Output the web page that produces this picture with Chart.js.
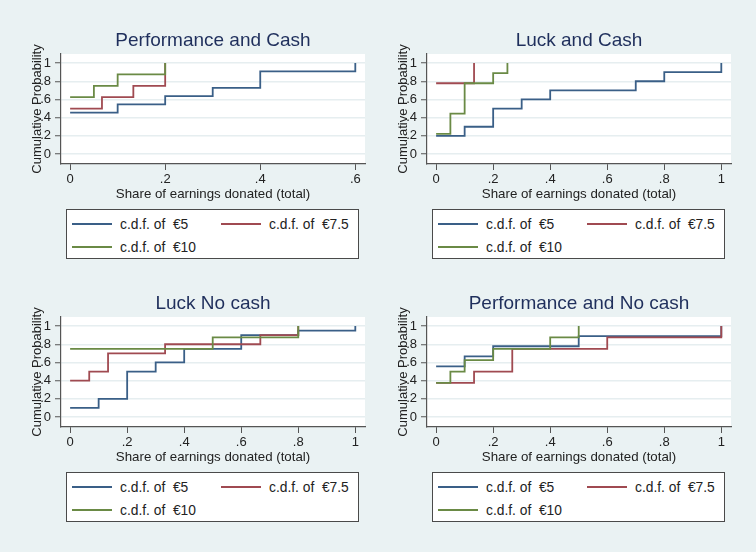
<!DOCTYPE html>
<html>
<head>
<meta charset="utf-8">
<script src="https://cdn.jsdelivr.net/npm/chart.js@4/dist/chart.umd.min.js"></script>
<style>
  html, body { margin: 0; padding: 0; }
  body {
    width: 756px; height: 552px; background: #eaf2f3;
    position: relative; overflow: hidden;
    font-family: "Liberation Sans", Arial, sans-serif;
  }
  canvas { position: absolute; }
  .legend {
    position: absolute; width: 293px; height: 50px; box-sizing: border-box;
    border: 1px solid #4a4a4a; background: #fff;
  }
  .legend .ln { position: absolute; width: 40px; height: 2px; }
  .legend .tx { position: absolute; font-size: 13.8px; line-height: 15px; color: #222; white-space: pre; }
</style>
</head>
<body>
<canvas id="c1" width="350" height="194"></canvas>
<canvas id="c2" width="350" height="194"></canvas>
<canvas id="c3" width="350" height="194"></canvas>
<canvas id="c4" width="350" height="194"></canvas>
<div class="legend" id="l1"></div>
<div class="legend" id="l2"></div>
<div class="legend" id="l3"></div>
<div class="legend" id="l4"></div>
<script>
// --- data ---
const seriesNames = ['c.d.f. of  €5', 'c.d.f. of  €7.5', 'c.d.f. of  €10'];
const panelTitles = ['Performance and Cash', 'Luck and Cash', 'Luck No cash', 'Performance and No cash'];

const yTicks = [0, 0.2, 0.4, 0.6, 0.8, 1];
const yTickLabels = ['0', '.2', '.4', '.6', '.8', '1'];
const xTicksShort = [0, 0.2, 0.4, 0.6];
const xTickLabelsShort = ['0', '.2', '.4', '.6'];
const xTicksFull = [0, 0.2, 0.4, 0.6, 0.8, 1];
const xTickLabelsFull = ['0', '.2', '.4', '.6', '.8', '1'];

// Performance and Cash
const perfCashX5 = [0, 0.1, 0.2, 0.3, 0.4, 0.6];
const perfCashY5 = [0.455, 0.545, 0.636, 0.727, 0.909, 1];
const perfCashX75 = [0, 0.067, 0.133, 0.2];
const perfCashY75 = [0.5, 0.625, 0.75, 1];
const perfCashX10 = [0, 0.05, 0.1, 0.2];
const perfCashY10 = [0.625, 0.75, 0.875, 1];

// Luck and Cash
const luckCashX5 = [0, 0.1, 0.2, 0.3, 0.4, 0.7, 0.8, 1];
const luckCashY5 = [0.2, 0.3, 0.5, 0.6, 0.7, 0.8, 0.9, 1];
const luckCashX75 = [0, 0.133];
const luckCashY75 = [0.778, 1];
const luckCashX10 = [0, 0.05, 0.1, 0.2, 0.25];
const luckCashY10 = [0.222, 0.444, 0.778, 0.889, 1];

// Luck No cash
const luckNoX5 = [0, 0.1, 0.2, 0.3, 0.4, 0.6, 0.8, 1];
const luckNoY5 = [0.1, 0.2, 0.5, 0.6, 0.75, 0.9, 0.95, 1];
const luckNoX75 = [0, 0.067, 0.133, 0.333, 0.667, 0.8];
const luckNoY75 = [0.4, 0.5, 0.7, 0.8, 0.9, 1];
const luckNoX10 = [0, 0.5, 0.8];
const luckNoY10 = [0.75, 0.875, 1];

// Performance and No cash
const perfNoX5 = [0, 0.1, 0.2, 0.5, 1];
const perfNoY5 = [0.556, 0.667, 0.778, 0.889, 1];
const perfNoX75 = [0, 0.133, 0.267, 0.6, 1];
const perfNoY75 = [0.375, 0.5, 0.75, 0.875, 1];
const perfNoX10 = [0, 0.05, 0.1, 0.2, 0.4, 0.5];
const perfNoY10 = [0.375, 0.5, 0.625, 0.75, 0.875, 1];

// --- styling ---
const lineColors = ['#3a5f87', '#a04a51', '#6a8a45'];
const axisColor = '#555';
const textColor = '#222';

Chart.defaults.font.family = '"Liberation Sans", Arial, sans-serif';

// white plot region like Stata
const plotBg = {
  id: 'plotBg',
  beforeDraw(chart) {
    const { ctx, chartArea: a } = chart;
    ctx.save();
    ctx.fillStyle = '#fff';
    ctx.fillRect(a.left, a.top, a.right - a.left, a.bottom - a.top);
    ctx.restore();
  }
};

// center the title over the plot region, not the whole canvas
const centerTitle = {
  id: 'centerTitle',
  afterLayout(chart) {
    const t = chart.titleBlock;
    if (t) {
      t.left = chart.chartArea.left;
      t.right = chart.chartArea.right;
    }
  }
};

function makePanel(n, ox, oy, title, xTicks, xLabels, xs, ys) {
  const canvas = document.getElementById('c' + n);
  canvas.style.left = (20 + ox) + 'px';
  canvas.style.top = (10 + oy) + 'px';
  const span = xTicks[xTicks.length - 1] - xTicks[0];

  const chart = new Chart(canvas, {
    type: 'line',
    data: {
      datasets: xs.map((xv, i) => ({
        label: seriesNames[i],
        data: xv.map((x, j) => ({ x: x, y: ys[i][j] })),
        stepped: true,
        borderColor: lineColors[i],
        backgroundColor: lineColors[i],
        borderWidth: 1.8,
        pointRadius: 0,
        fill: false,
        order: 2 - i
      }))
    },
    options: {
      responsive: false,
      animation: false,
      layout: { padding: { right: 5 } },
      plugins: {
        legend: { display: false },
        tooltip: { enabled: false },
        title: {
          display: true, text: title, color: '#1f2f5c',
          font: { size: 19, weight: 'normal' },
          padding: { top: 19.6, bottom: 1.6 }
        }
      },
      scales: {
        x: {
          type: 'linear',
          min: xTicks[0] - span * 0.032,
          max: xTicks[xTicks.length - 1] + span * 0.034,
          afterBuildTicks: s => { s.ticks = xTicks.map(v => ({ value: v })); },
          afterFit: s => { s.height = 40; },
          ticks: {
            callback: (v, i) => xLabels[i],
            color: textColor, font: { size: 13 }, padding: 2,
            maxRotation: 0, autoSkip: false
          },
          grid: { drawOnChartArea: false, tickLength: 6, tickColor: axisColor, tickWidth: 1 },
          border: { color: axisColor, width: 1.2 },
          title: {
            display: true, text: 'Share of earnings donated (total)',
            color: textColor, font: { size: 13.3 }, padding: { top: 0, bottom: 1.7 }
          }
        },
        y: {
          min: -0.11, max: 1.1,
          afterBuildTicks: s => { s.ticks = yTicks.map(v => ({ value: v })); },
          afterFit: s => { s.width = 41; },
          ticks: {
            callback: (v, i) => yTickLabels[i],
            color: textColor, font: { size: 13 }, padding: 4, autoSkip: false
          },
          grid: { color: '#e6eef0', lineWidth: 1.5, tickLength: 6, tickColor: axisColor, tickWidth: 1 },
          border: { color: axisColor, width: 1.2 },
          title: {
            display: true, text: 'Cumulative Probability',
            color: textColor, font: { size: 13 }, padding: { top: 9.2, bottom: 0 }
          }
        }
      }
    },
    plugins: [plotBg, centerTitle]
  });

  // HTML legend in Stata's two-column box
  const box = document.getElementById('l' + n);
  box.style.left = (66 + ox) + 'px';
  box.style.top = (209 + oy) + 'px';
  const items = Chart.defaults.plugins.legend.labels.generateLabels(chart)
    .sort((a, b) => a.datasetIndex - b.datasetIndex);
  items.forEach((it, i) => {
    const col = i % 2, row = Math.floor(i / 2);
    const ln = document.createElement('div');
    ln.className = 'ln';
    ln.style.left = (5 + col * 149) + 'px';
    ln.style.top = (13 + row * 23) + 'px';
    ln.style.background = it.strokeStyle;
    box.appendChild(ln);
    const tx = document.createElement('div');
    tx.className = 'tx';
    tx.style.left = (53 + col * 149) + 'px';
    tx.style.top = (6.5 + row * 23) + 'px';
    tx.textContent = it.text;
    box.appendChild(tx);
  });
  return chart;
}

makePanel(1, 0, 0, panelTitles[0], xTicksShort, xTickLabelsShort,
  [perfCashX5, perfCashX75, perfCashX10], [perfCashY5, perfCashY75, perfCashY10]);
makePanel(2, 366, 0, panelTitles[1], xTicksFull, xTickLabelsFull,
  [luckCashX5, luckCashX75, luckCashX10], [luckCashY5, luckCashY75, luckCashY10]);
makePanel(3, 0, 263, panelTitles[2], xTicksFull, xTickLabelsFull,
  [luckNoX5, luckNoX75, luckNoX10], [luckNoY5, luckNoY75, luckNoY10]);
makePanel(4, 366, 263, panelTitles[3], xTicksFull, xTickLabelsFull,
  [perfNoX5, perfNoX75, perfNoX10], [perfNoY5, perfNoY75, perfNoY10]);
</script>
</body>
</html>
